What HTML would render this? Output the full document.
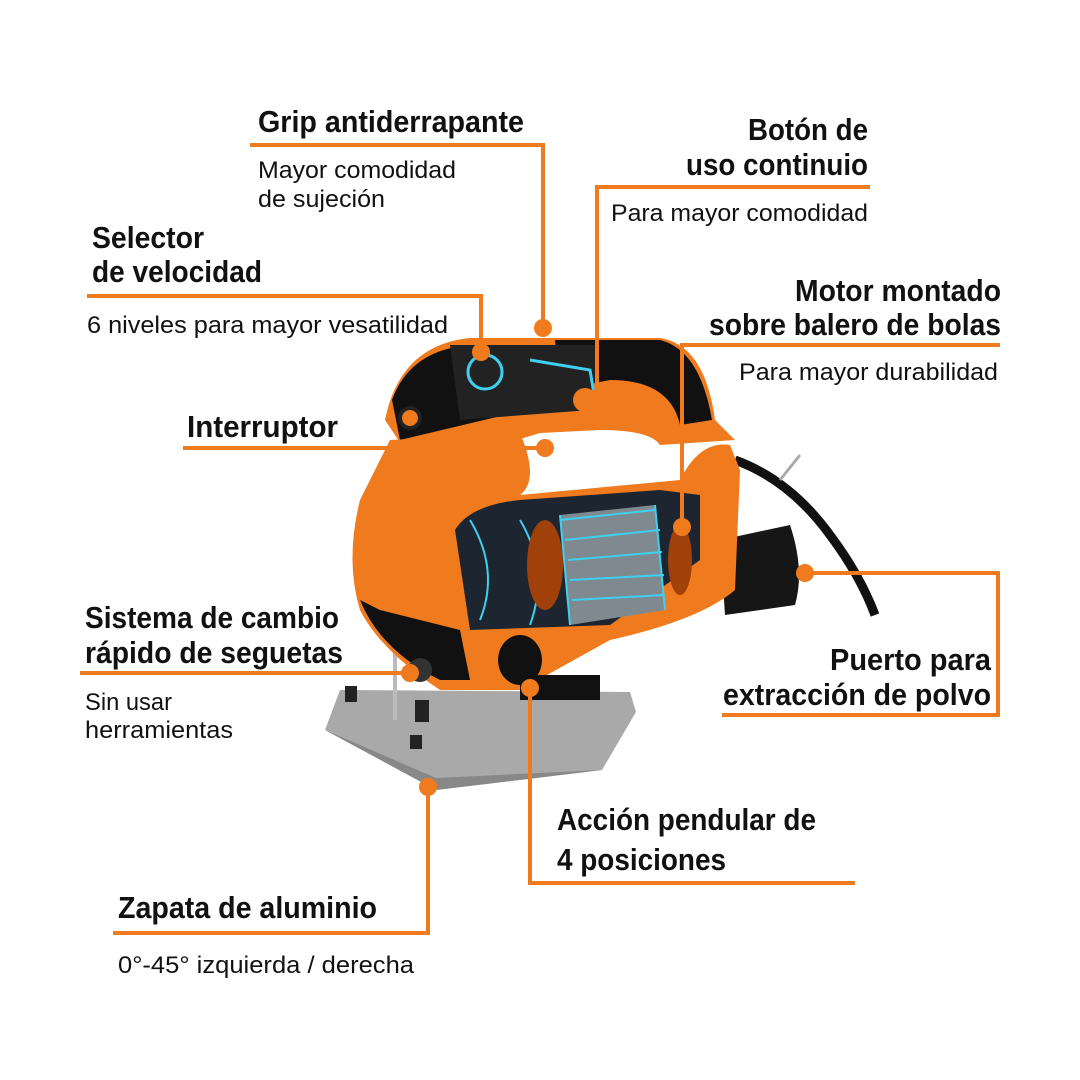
<!DOCTYPE html>
<html><head><meta charset="utf-8"><style>
html,body{margin:0;padding:0;background:#fff;}
svg{display:block;}
text{font-family:"Liberation Sans",sans-serif;fill:#111;}
.t{font-size:31px;font-weight:bold;}
.s{font-size:24px;}
</style></head><body>
<svg width="1080" height="1080" viewBox="0 0 1080 1080" xmlns="http://www.w3.org/2000/svg">
<!-- base plate -->
<polygon points="340,690 630,692 636,712 602,770 436,790 325,730" fill="#a9a9a9"/>
<polygon points="325,730 436,790 602,770 436,778" fill="#888"/>
<rect x="415" y="700" width="14" height="22" fill="#222"/>
<rect x="345" y="686" width="12" height="16" fill="#222"/>
<rect x="410" y="735" width="12" height="14" fill="#222"/>
<line x1="395" y1="640" x2="395" y2="720" stroke="#bbb" stroke-width="4"/>
<!-- cord -->
<path d="M735,460 Q790,480 830,535 Q860,575 875,615" fill="none" stroke="#111" stroke-width="9"/>
<line x1="780" y1="480" x2="800" y2="455" stroke="#aaa" stroke-width="3"/>
<!-- dust port -->
<path d="M720,540 L790,525 Q805,570 795,605 L725,615 Z" fill="#161616"/>
<!-- handle -->
<path d="M385,420 Q400,345 470,338 L660,338 Q705,345 715,420 L735,440 L660,445 Q650,430 600,430 L540,433 L500,445 L405,450 Z" fill="#f07a1e"/>
<path d="M392,400 Q410,350 470,345 L520,345 L505,415 L400,440 Z" fill="#111"/>
<path d="M555,340 L660,340 Q700,350 712,420 L680,425 Q670,380 610,380 L560,390 Z" fill="#111"/>
<path d="M450,345 L600,345 L590,410 L460,420 Z" fill="#222"/>
<circle cx="485" cy="372" r="17" fill="none" stroke="#3fd0f0" stroke-width="3"/>
<path d="M530,360 L590,370 L595,400" fill="none" stroke="#3fd0f0" stroke-width="3"/>
<circle cx="585" cy="400" r="12" fill="#f07a1e"/>
<circle cx="410" cy="418" r="10" fill="#f07a1e" stroke="#222" stroke-width="4"/>
<!-- main body -->
<path d="M390,440 L520,433 Q540,480 520,495 L680,480 Q700,440 730,445 L740,470 L735,590 Q700,620 610,640 L520,690 L440,690 Q380,650 360,610 Q345,560 360,500 Z" fill="#f07a1e"/>
<path d="M360,600 Q380,650 440,680 L470,680 L460,630 L380,610 Z" fill="#111"/>
<!-- motor cutaway -->
<path d="M455,530 Q470,505 520,500 L660,490 L700,495 L700,560 L610,625 L470,630 Z" fill="#1d2630"/>
<path d="M560,515 L655,505 L665,610 L570,625 Z" fill="#7f8990"/>
<g stroke="#3fd0f0" stroke-width="2" fill="none">
<path d="M470,520 Q500,570 480,620"/><path d="M520,520 Q550,570 530,625"/>
<path d="M560,520 L655,510"/><path d="M565,540 L660,530"/><path d="M568,560 L662,552"/><path d="M570,580 L664,575"/><path d="M572,600 L665,595"/>
<path d="M560,515 L570,625"/><path d="M655,505 L665,610"/>
</g>
<ellipse cx="545" cy="565" rx="18" ry="45" fill="#a0400a"/>
<ellipse cx="680" cy="560" rx="12" ry="35" fill="#a0400a"/>
<ellipse cx="520" cy="660" rx="22" ry="25" fill="#111"/>
<rect x="520" y="675" width="80" height="25" fill="#111"/>
<circle cx="420" cy="670" r="12" fill="#333"/>
<!-- lines -->
<g stroke="#f07a1e" stroke-width="4" fill="none">
<polyline points="250,145 543,145 543,325"/>
<polyline points="870,187 597,187 597,398"/>
<polyline points="87,296 481,296 481,352"/>
<polyline points="1000,345 682,345 682,527"/>
<polyline points="183,448 545,448"/>
<polyline points="80,673 410,673"/>
<polyline points="805,573 998,573 998,715 722,715"/>
<polyline points="530,688 530,883 855,883"/>
<polyline points="428,787 428,933 113,933"/>
</g>
<g fill="#f07a1e">
<circle cx="543" cy="328" r="9"/><circle cx="597" cy="398" r="9"/><circle cx="481" cy="352" r="9"/>
<circle cx="682" cy="527" r="9"/><circle cx="545" cy="448" r="9"/><circle cx="410" cy="673" r="9"/>
<circle cx="805" cy="573" r="9"/><circle cx="530" cy="688" r="9"/><circle cx="428" cy="787" r="9"/>
</g>
<!-- text -->
<text class="t" x="258" y="132" textLength="266" lengthAdjust="spacingAndGlyphs">Grip antiderrapante</text>
<text class="s" x="258" y="178" textLength="198" lengthAdjust="spacingAndGlyphs">Mayor comodidad</text>
<text class="s" x="258" y="207" textLength="127" lengthAdjust="spacingAndGlyphs">de sujeción</text>
<text class="t" x="748" y="140" textLength="120" lengthAdjust="spacingAndGlyphs">Botón de</text>
<text class="t" x="686" y="175" textLength="182" lengthAdjust="spacingAndGlyphs">uso continuio</text>
<text class="s" x="611" y="221" textLength="257" lengthAdjust="spacingAndGlyphs">Para mayor comodidad</text>
<text class="t" x="92" y="248" textLength="112" lengthAdjust="spacingAndGlyphs">Selector</text>
<text class="t" x="92" y="282" textLength="170" lengthAdjust="spacingAndGlyphs">de velocidad</text>
<text class="s" x="87" y="333" textLength="361" lengthAdjust="spacingAndGlyphs">6 niveles para mayor vesatilidad</text>
<text class="t" x="795" y="301" textLength="206" lengthAdjust="spacingAndGlyphs">Motor montado</text>
<text class="t" x="709" y="335" textLength="292" lengthAdjust="spacingAndGlyphs">sobre balero de bolas</text>
<text class="s" x="739" y="380" textLength="259" lengthAdjust="spacingAndGlyphs">Para mayor durabilidad</text>
<text class="t" x="187" y="437" textLength="151" lengthAdjust="spacingAndGlyphs">Interruptor</text>
<text class="t" x="85" y="628" textLength="254" lengthAdjust="spacingAndGlyphs">Sistema de cambio</text>
<text class="t" x="85" y="663" textLength="258" lengthAdjust="spacingAndGlyphs">rápido de seguetas</text>
<text class="s" x="85" y="710" textLength="87" lengthAdjust="spacingAndGlyphs">Sin usar</text>
<text class="s" x="85" y="738" textLength="148" lengthAdjust="spacingAndGlyphs">herramientas</text>
<text class="t" x="830" y="670" textLength="161" lengthAdjust="spacingAndGlyphs">Puerto para</text>
<text class="t" x="723" y="705" textLength="268" lengthAdjust="spacingAndGlyphs">extracción de polvo</text>
<text class="t" x="557" y="830" textLength="259" lengthAdjust="spacingAndGlyphs">Acción pendular de</text>
<text class="t" x="557" y="870" textLength="169" lengthAdjust="spacingAndGlyphs">4 posiciones</text>
<text class="t" x="118" y="918" textLength="259" lengthAdjust="spacingAndGlyphs">Zapata de aluminio</text>
<text class="s" x="118" y="973" textLength="296" lengthAdjust="spacingAndGlyphs">0°-45° izquierda / derecha</text>
</svg>
</body></html>
